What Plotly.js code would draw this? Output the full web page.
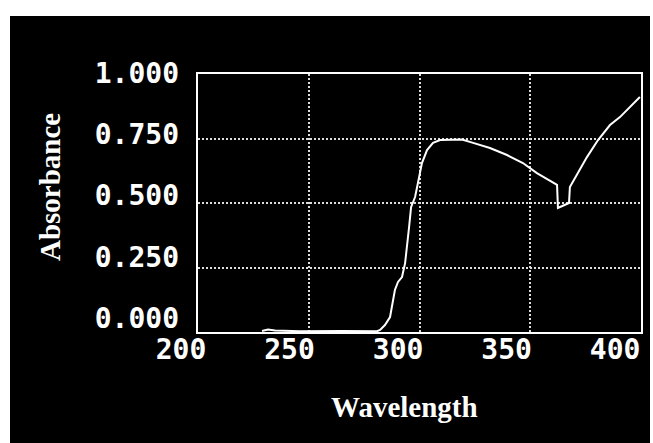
<!DOCTYPE html>
<html>
<head>
<meta charset="utf-8">
<script src="https://cdn.plot.ly/plotly-3.0.1.min.js"></script>
<style>
  html, body { margin: 0; padding: 0; background: #ffffff; }
  #chart { position: absolute; left: 10px; top: 16px; width: 640px; height: 427px; }
</style>
</head>
<body>
<div id="chart"></div>
<script>
// Spectrum
const wavelength = [228.9, 231.6, 234.8, 246.0, 265.0, 280.8, 282.2, 284.4, 286.7, 288.0, 288.9, 290.3, 292.1, 293.5, 294.4, 295.3, 296.2, 297.1, 298.0, 299.3, 300.2, 301.1, 303.4, 306.1, 309.3, 313.8, 319.2, 324.2, 331.8, 339.5, 346.7, 353.0, 362.1, 362.5, 367.5, 367.9, 371.1, 375.6, 380.6, 386.0, 390.5, 399.5];
const absorbance = [0.004, 0.010, 0.006, 0.003, 0.004, 0.003, 0.008, 0.027, 0.058, 0.112, 0.163, 0.194, 0.213, 0.267, 0.329, 0.407, 0.484, 0.504, 0.523, 0.578, 0.616, 0.655, 0.705, 0.733, 0.744, 0.746, 0.746, 0.733, 0.713, 0.686, 0.655, 0.616, 0.570, 0.481, 0.500, 0.562, 0.609, 0.678, 0.744, 0.802, 0.833, 0.911];

// Tick labels
const xTickValues = [200, 250, 300, 350, 400];
const xTickLabels = ["200", "250", "300", "350", "400"];
const yTickValues = [0, 0.25, 0.5, 0.75, 1.0];
const yTickLabels = ["0.000", "0.250", "0.500", "0.750", "1.000"];

const xTitle = "Wavelength";
const yTitle = "Absorbance";

const tickFont = { family: "DejaVu Sans Mono", size: 28, color: "#ffffff", weight: "bold" };
const titleFont = { family: "Liberation Serif", size: 29, color: "#ffffff", weight: "bold" };

const gridStyle = {
  showgrid: true, gridcolor: "#dcdcdc", gridwidth: 2, griddash: "2px,2px",
  showline: true, linecolor: "#ffffff", linewidth: 2, mirror: true,
  zeroline: false, ticks: "", showticklabels: false, fixedrange: true
};

const traces = [
  {
    type: "scatter", mode: "lines",
    x: wavelength, y: absorbance,
    line: { color: "#ffffff", width: 2 },
    hoverinfo: "skip", showlegend: false
  },
  // empty helper traces so the label axes get drawn
  { type: "scatter", mode: "none", x: [], y: [], xaxis: "x2", yaxis: "y", hoverinfo: "skip", showlegend: false },
  { type: "scatter", mode: "none", x: [], y: [], xaxis: "x", yaxis: "y2", hoverinfo: "skip", showlegend: false }
];

const layout = {
  width: 640, height: 427,
  paper_bgcolor: "#000000", plot_bgcolor: "#000000",
  margin: { l: 188, r: 9, t: 58, b: 111 },
  showlegend: false,
  xaxis: Object.assign({}, gridStyle, { range: [200, 400], dtick: 50, tick0: 200 }),
  yaxis: Object.assign({}, gridStyle, { range: [0, 1], dtick: 0.25, tick0: 0 }),
  xaxis2: {
    overlaying: "x", anchor: "y", side: "bottom",
    range: [200, 404.1], autorange: false, tickmode: "array",
    tickvals: xTickValues, ticktext: xTickLabels,
    showgrid: false, showline: false, zeroline: false, ticks: "",
    ticklabelshift: -17, ticklabelstandoff: -2,
    tickfont: tickFont, fixedrange: true
  },
  yaxis2: {
    overlaying: "y", anchor: "x", side: "left",
    range: [0, 1.053], autorange: false, tickmode: "array",
    tickvals: yTickValues, ticktext: yTickLabels,
    showgrid: false, showline: false, zeroline: false, ticks: "",
    ticklabelshift: -14, ticklabelstandoff: 18,
    tickfont: tickFont, fixedrange: true
  },
  annotations: [
    { text: xTitle, xref: "paper", yref: "paper", x: 0.467, y: -0.291,
      xanchor: "center", yanchor: "middle", showarrow: false, font: titleFont },
    { text: yTitle, xref: "paper", yref: "paper", x: -0.334, y: 0.562,
      xanchor: "center", yanchor: "middle", textangle: -90, showarrow: false, font: titleFont }
  ]
};

Plotly.newPlot("chart", traces, layout, { displayModeBar: false, staticPlot: true });
</script>
</body>
</html>
